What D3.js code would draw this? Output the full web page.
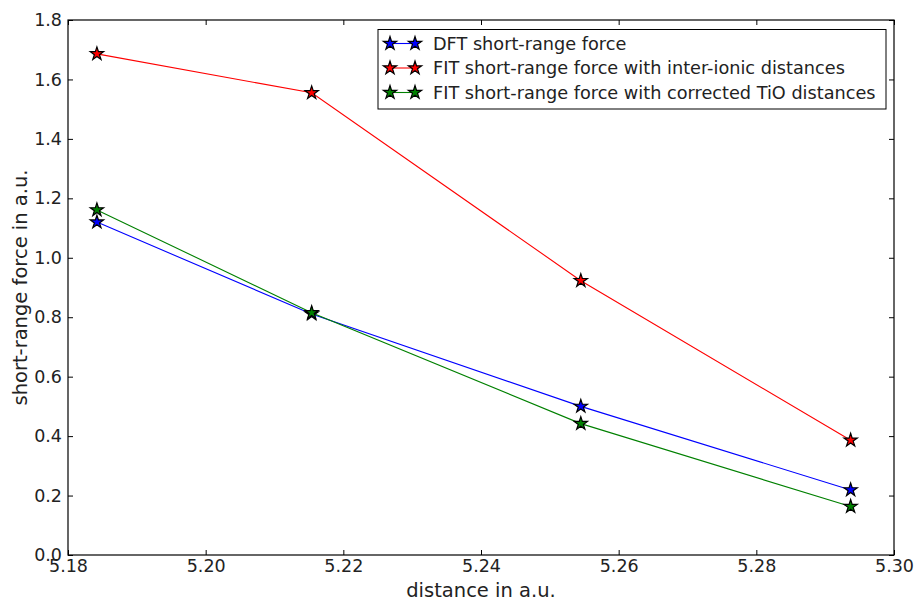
<!DOCTYPE html>
<html><head><meta charset="utf-8">
<script src="https://cdn.jsdelivr.net/npm/d3@7"></script>
<style>body{margin:0;background:#fff;} text{font-family:"DejaVu Sans",sans-serif;fill:#222;}</style>
</head><body><svg id="c" width="915" height="603"></svg>
<script>
const distances = [5.1842, 5.2154, 5.2545, 5.2937];
const dftForce = [1.120, 0.811, 0.500, 0.219];
const fitInterIonic = [1.686, 1.555, 0.923, 0.386];
const fitCorrectedTiO = [1.161, 0.815, 0.442, 0.163];
const xTicks = [5.18, 5.20, 5.22, 5.24, 5.26, 5.28, 5.30];
const yTicks = [0.0, 0.2, 0.4, 0.6, 0.8, 1.0, 1.2, 1.4, 1.6, 1.8];
const seriesNames = ["DFT short-range force", "FIT short-range force with inter-ionic distances", "FIT short-range force with corrected TiO distances"];
const seriesColors = ["#0000ff", "#ff0000", "#008000"];
const seriesData = [dftForce, fitInterIonic, fitCorrectedTiO];

const svg = d3.select("#c");
const L = 68, R = 894, T = 20, B = 555;
const x = d3.scaleLinear().domain([5.18, 5.30]).range([L, R]);
const y = d3.scaleLinear().domain([0, 1.8]).range([B, T]);

const tl = 5;
const g = svg.append("g");
g.append("g").attr("transform", `translate(0,${B})`)
  .call(d3.axisBottom(x).tickValues(xTicks).tickFormat(d3.format(".2f")).tickSizeInner(-tl).tickSizeOuter(0).tickPadding(5))
  .call(s => { s.select(".domain").remove(); s.selectAll("text").attr("font-size", 17.5).attr("fill", "#222"); s.selectAll("line").attr("stroke", "#000"); });
g.append("g").attr("transform", `translate(0,${T})`)
  .call(d3.axisTop(x).tickValues(xTicks).tickFormat("").tickSizeInner(-tl).tickSizeOuter(0))
  .call(s => { s.select(".domain").remove(); s.selectAll("line").attr("stroke", "#000"); });
g.append("g").attr("transform", `translate(${L},0)`)
  .call(d3.axisLeft(y).tickValues(yTicks).tickFormat(d3.format(".1f")).tickSizeInner(-tl).tickSizeOuter(0).tickPadding(6))
  .call(s => { s.select(".domain").remove(); s.selectAll("text").attr("font-size", 17.5).attr("fill", "#222"); s.selectAll("line").attr("stroke", "#000"); });
g.append("g").attr("transform", `translate(${R},0)`)
  .call(d3.axisRight(y).tickValues(yTicks).tickFormat("").tickSizeInner(-tl).tickSizeOuter(0))
  .call(s => { s.select(".domain").remove(); s.selectAll("line").attr("stroke", "#000"); });

svg.append("rect").attr("x", L).attr("y", T).attr("width", R - L).attr("height", B - T)
  .attr("fill", "none").attr("stroke", "#000").attr("stroke-width", 1.2);

const star = d3.symbol().type(d3.symbolStar).size(55);
const line = d3.line().x((d, i) => x(distances[i])).y(d => y(d));
seriesData.forEach((vals, k) => {
  svg.append("path").datum(vals).attr("d", line).attr("fill", "none")
    .attr("stroke", seriesColors[k]).attr("stroke-width", 1.1);
});
seriesData.forEach((vals, k) => {
  svg.selectAll(null).data(vals).enter().append("path")
    .attr("d", star).attr("transform", (d, i) => `translate(${x(distances[i])},${y(d)})`)
    .attr("fill", seriesColors[k]).attr("stroke", "#000").attr("stroke-width", 1.2);
});

svg.append("text").attr("x", (L + R) / 2).attr("y", 597).attr("text-anchor", "middle").attr("font-size", 19.5).text("distance in a.u.");
svg.append("text").attr("transform", `translate(27,${(T + B) / 2}) rotate(-90)`).attr("text-anchor", "middle").attr("font-size", 19.5).text("short-range force in a.u.");

const lg = svg.append("g");
lg.append("rect").attr("x", 378).attr("y", 29.5).attr("width", 508).attr("height", 79.5)
  .attr("fill", "#fff").attr("stroke", "#000").attr("stroke-width", 1);
seriesNames.forEach((name, k) => {
  const yy = 43.5 + k * 24.5;
  lg.append("line").attr("x1", 390).attr("x2", 415).attr("y1", yy).attr("y2", yy).attr("stroke", seriesColors[k]).attr("stroke-width", 1.1);
  [390, 415].forEach(xx => lg.append("path").attr("d", star).attr("transform", `translate(${xx},${yy})`).attr("fill", seriesColors[k]).attr("stroke", "#000").attr("stroke-width", 1.2));
  lg.append("text").attr("x", 433).attr("y", yy + 6).attr("font-size", 17.7).text(name);
});
</script></body></html>
